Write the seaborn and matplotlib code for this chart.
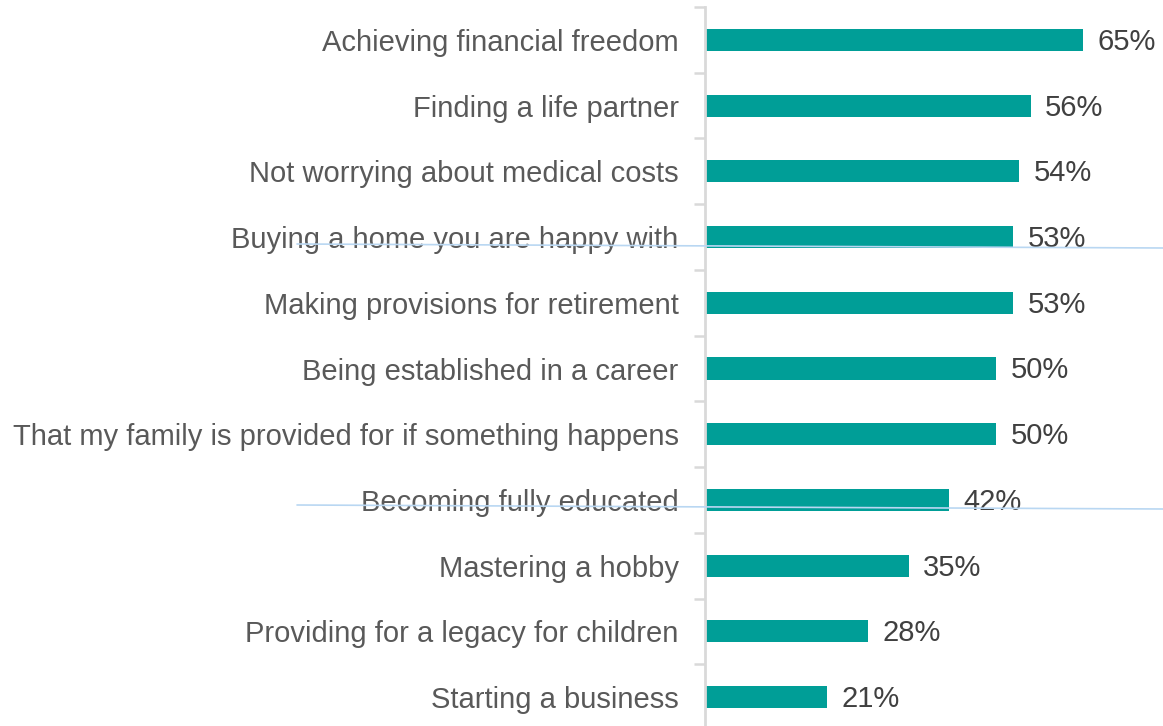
import matplotlib
matplotlib.use("Agg")
import matplotlib.pyplot as plt
import seaborn as sns
import pandas as pd
from matplotlib.lines import Line2D

categories = [
    "Achieving financial freedom",
    "Finding a life partner",
    "Not worrying about medical costs",
    "Buying a home you are happy with",
    "Making provisions for retirement",
    "Being established in a career",
    "That my family is provided for if something happens",
    "Becoming fully educated",
    "Mastering a hobby",
    "Providing for a legacy for children",
    "Starting a business",
]
values = [65, 56, 54, 53, 53, 50, 50, 42, 35, 28, 21]

df = pd.DataFrame({"goal": categories, "share": values})

sns.set_theme(style="white")
plt.rcParams["font.family"] = ["Liberation Sans", "DejaVu Sans"]

W, H = 1163, 726
fig = plt.figure(figsize=(W / 100, H / 100), dpi=100)
ax = fig.add_axes([705 / W, 1 - 730 / H, 1 - 705 / W, 723 / H])

sns.barplot(data=df, y="goal", x="share", orient="h", color="#009e97",
            saturation=1, width=0.335, ax=ax, edgecolor="none")

ax.set_xlim(0, 458 / 5.815)
ax.set_ylim(len(categories) - 0.5, -0.5)
ax.set_xlabel("")
ax.set_ylabel("")
ax.set_xticks([])

# category boundary ticks on the left spine
n = len(categories)
ax.set_yticks([i - 0.5 for i in range(n + 1)], minor=True)
ax.set_yticks(range(n))
ax.set_yticklabels(categories, fontsize=21, color="#595959")
ax.tick_params(axis="y", which="major", length=0, pad=19)
ax.tick_params(axis="y", which="minor", length=8, width=1.8, color="#d9d9d9", left=True)

for s in ["top", "right", "bottom"]:
    ax.spines[s].set_visible(False)
ax.spines["left"].set_color("#d9d9d9")
ax.spines["left"].set_linewidth(2)

for i, v in enumerate(values):
    ax.text(v + 2.5, i + 0.03, f"{v}%", va="center", ha="left",
            fontsize=21, color="#404040")

# thin guide lines across the figure
for y0, y1 in [(244, 248), (505, 509)]:
    fig.add_artist(Line2D([297 / W, 1.0], [1 - y0 / H, 1 - y1 / H],
                          transform=fig.transFigure, color="#b9d7f2", lw=1.2))

fig.savefig("out.png", dpi=100)
